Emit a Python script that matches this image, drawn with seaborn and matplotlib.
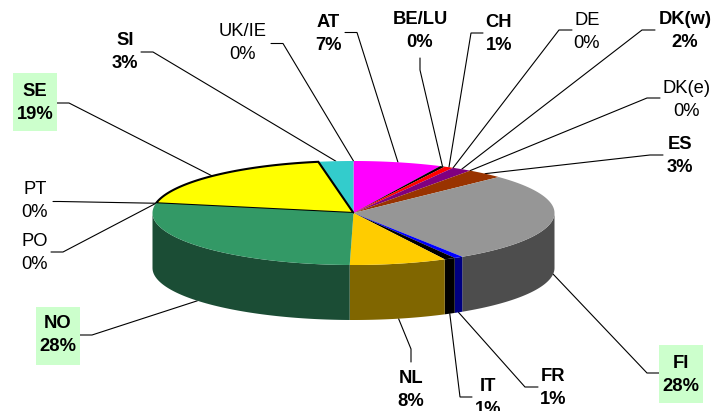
import numpy as np
import matplotlib
matplotlib.use('Agg')
import matplotlib.pyplot as plt
from matplotlib.patches import Polygon, Rectangle
import seaborn as sns

# clockwise from 12 o'clock
countries = ['AT', 'BE/LU', 'CH', 'DE', 'DK(w)', 'DK(e)', 'ES', 'FI', 'FR', 'IT', 'NL', 'NO', 'PO', 'PT', 'SE', 'SI', 'UK/IE']
shares = [7.1, 0.4, 0.75, 0, 1.6, 0, 3.0, 28.05, 0.7, 0.9, 7.8, 27.7, 0, 0, 19.2, 2.8, 0]
bold_labels = ['AT', 'BE/LU', 'CH', 'DK(w)', 'ES', 'FI', 'FR', 'IT', 'NL', 'NO', 'SE', 'SI']
top_colors = ['#FF00FF', '#000000', '#FF0000', '#FFFFFF', '#800080', '#FFFFFF', '#993300', '#969696', '#0000FF',
              '#000000', '#FFCC00', '#339966', '#FFFFFF', '#FFFFFF', '#FFFF00', '#33CCCC', '#FFFFFF']
side_colors = ['#800080', '#000000', '#800000', '#808080', '#400040', '#808080', '#4D1A00', '#4D4D4D', '#000080',
               '#000000', '#806600', '#1B4D35', '#808080', '#808080', '#808000', '#1A6666', '#808080']

# layout in pixels: label centre, start of leader, elbow of leader
label_pos = {
    'AT': (328, 34), 'BE/LU': (420, 31), 'CH': (499, 34), 'DE': (587, 32), 'DK(w)': (685, 31),
    'DK(e)': (687, 100), 'ES': (680, 156), 'FI': (681, 375), 'FR': (553, 388), 'IT': (488, 398),
    'NL': (411, 390), 'NO': (58, 335), 'PO': (35, 253), 'PT': (35, 201), 'SE': (35, 103),
    'SI': (125, 52), 'UK/IE': (243, 43),
}
leaders = {
    'AT': [(345, 32.5), (357, 32.5)], 'BE/LU': [(420, 58), (420, 70)], 'CH': [(483, 33), (471, 33)],
    'DE': [(572, 30), (559, 30)], 'DK(w)': [(655, 30), (642, 30)], 'DK(e)': [(660, 98), (647, 98)],
    'ES': [(663, 155), (650, 155)], 'FI': [(659, 373), (647, 373)], 'FR': [(538, 387), (525, 387)],
    'IT': [(472, 397), (460, 397)], 'NL': [(411, 362), (411, 349)], 'NO': [(80, 335), (92, 335)],
    'PO': [(51, 252), (63, 252)], 'PT': [(53, 201.5), (60, 201.5)], 'SE': [(57, 103), (69, 103)],
    'SI': [(141, 52), (153, 52)], 'UK/IE': [(271, 43.5), (283, 43.5)],
}
highlight = {'SE': (13, 73, 44, 58), 'NO': (36, 307, 44, 58), 'FI': (659, 345, 44, 58)}

CX, CY = 353.5, 213
RX, RY = 201, 52
DEPTH = 55

sns.set_theme(style='white')
plt.rcParams['font.family'] = ['Liberation Sans', 'DejaVu Sans']
top_palette = sns.color_palette(top_colors)
side_palette = sns.color_palette(side_colors)


def rim(a):
    return CX + RX * np.sin(a), CY - RY * np.cos(a)


fig = plt.figure(figsize=(7.15, 4.11), dpi=100)
ax = fig.add_axes([0, 0, 1, 1])
ax.set_xlim(0, 715)
ax.set_ylim(411, 0)
ax.axis('off')

values = np.array(shares, dtype=float)
edges = np.concatenate([[0], np.cumsum(values)]) / values.sum() * 2 * np.pi

# front wall, only the part of the rim facing the viewer
for i, name in enumerate(countries):
    lo = max(edges[i], np.pi / 2)
    hi = min(edges[i + 1], 3 * np.pi / 2)
    if hi <= lo:
        continue
    t = np.linspace(lo, hi, 80)
    x, y = rim(t)
    pts = np.r_[np.c_[x, y], np.c_[x[::-1], y[::-1] + DEPTH]]
    ax.add_patch(Polygon(pts, closed=True, fc=side_palette[i], ec='none', zorder=1))

# top face
for i, name in enumerate(countries):
    if values[i] == 0:
        continue
    t = np.linspace(edges[i], edges[i + 1], 120)
    x, y = rim(t)
    pts = np.r_[[(CX, CY)], np.c_[x, y]]
    if name == 'SE':
        ax.add_patch(Polygon(pts, closed=True, fc=top_palette[i], ec='black', lw=1.5, zorder=3, joinstyle='miter'))
    else:
        ax.add_patch(Polygon(pts, closed=True, fc=top_palette[i], ec='none', zorder=4 if name == 'NO' else 2))

# labels and leader lines
for i, name in enumerate(countries):
    mid = (edges[i] + edges[i + 1]) / 2
    ax_x, ax_y = rim(mid)
    if np.cos(mid) < 0:
        ax_y += DEPTH
    start, elbow = leaders[name]
    ax.plot([start[0], elbow[0], ax_x], [start[1], elbow[1], ax_y], color='black', lw=0.8, zorder=0.5,
            solid_joinstyle='miter')
    if name in highlight:
        bx, by, bw, bh = highlight[name]
        ax.add_patch(Rectangle((bx, by), bw, bh, fc='#CCFFCC', ec='none', zorder=5))
    lx, ly = label_pos[name]
    ax.text(lx, ly, f'{name}\n{values[i]:.0f}%', ha='center', va='center', ma='center', fontsize=13.2,
            linespacing=1.45, color='black', fontweight='bold' if name in bold_labels else 'normal', zorder=6)

fig.savefig('out.png', dpi=100, facecolor='white')
